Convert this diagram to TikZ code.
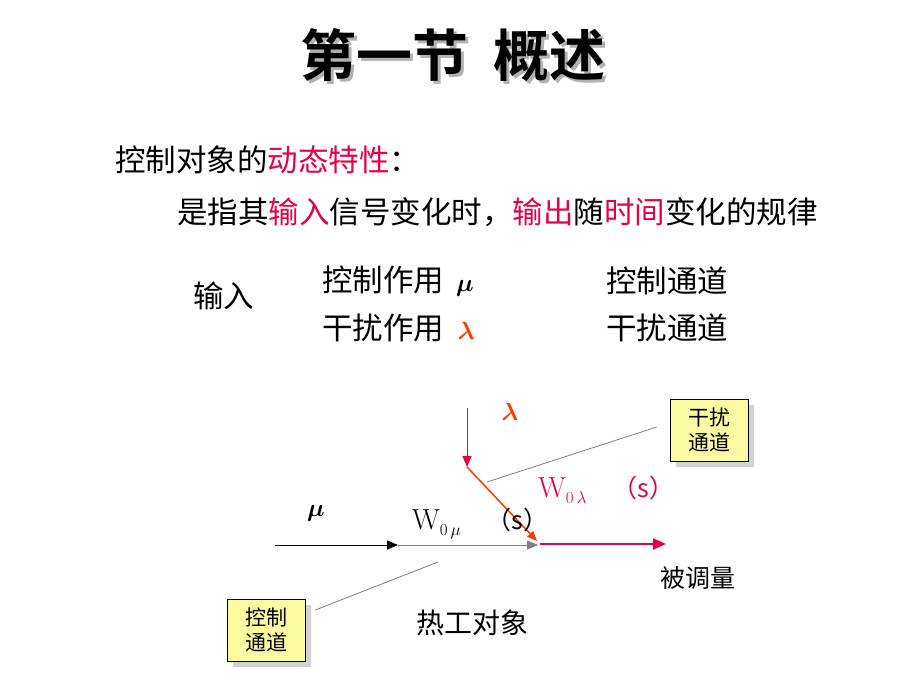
\documentclass[tikz,border=0pt]{standalone}
\usepackage{fontspec}
\usepackage{amsmath,bm}
\newfontfamily\cjk{Noto Sans CJK SC}
\newfontfamily\cjkb{Noto Sans CJK SC Bold}
\usetikzlibrary{arrows.meta,shadows}
\definecolor{hl}{RGB}{230,0,70}
\definecolor{org}{RGB}{255,60,0}
\definecolor{boxy}{RGB}{250,250,160}
\tikzset{
 txt/.style={font=\cjk\fontsize{30.5}{32}\selectfont,inner sep=0pt},
 small/.style={font=\cjk\fontsize{28}{30}\selectfont,inner sep=0pt},
 tag/.style={draw=black,fill=boxy,minimum width=78pt,minimum height=62pt,align=center,font=\cjk\fontsize{21}{25}\selectfont,
   inner sep=2pt,drop shadow},
 lead/.style={draw=gray,line width=0.8pt},
 tipA/.style={-{Triangle[length=11pt,width=9pt]}},
 every shadow/.style={fill=gray!70,shadow xshift=6pt,shadow yshift=-6pt},
}
\begin{document}
\begin{tikzpicture}[x=1pt,y=-1pt]
\useasboundingbox (0,0) rectangle (920,690);
\fill[white] (0,0) rectangle (920,690);
% title
\node[font=\cjkb\fontsize{56}{60}\selectfont,text=gray!60,inner sep=0pt] at (456,58) {第一节\ \ 概述};
\node (title) [font=\cjkb\fontsize{56}{60}\selectfont,inner sep=0pt] at (453,55) {第一节\ \ 概述};
\node (l1) [txt,anchor=west] at (115,160) {控制对象的\textcolor{hl}{动态特性}：};
\node (l2) [txt,anchor=west] at (177,212) {是指其\textcolor{hl}{输入}信号变化时，\textcolor{hl}{输出}随\textcolor{hl}{时间}变化的规律};
\node (in) [txt,anchor=west] at (193,296) {输入};
\node (c1) [txt,anchor=west] at (322,281) {控制作用 \,{\fontsize{36}{38}\selectfont$\bm{\mu}$}};
\node (c2) [txt,anchor=west] at (322,328) {干扰作用 \ \textcolor{org}{\fontsize{36}{38}\selectfont$\bm{\lambda}$}};
\node (d1) [txt,anchor=west] at (606,281) {控制通道};
\node (d2) [txt,anchor=west] at (606,328) {干扰通道};
% diagram
\coordinate (a0) at (275,545);
\coordinate (a1) at (398,545);
\coordinate (j) at (538,545);
\coordinate (out) at (666,544);
\coordinate (l0) at (467,408);
\coordinate (l1p) at (467,467);
\draw[tipA,line width=0.8pt] (a0) -- (a1);
\draw[tipA,draw=gray,fill=black,line width=0.8pt] (a1) -- (j);
\draw[-{Triangle[length=13pt,width=11pt]},draw=hl,fill=hl,line width=2.5pt] (540,544) -- (out);
\draw[tipA,draw=hl,fill=hl,line width=1pt] (l0) -- (l1p);
\draw[-{Triangle[length=10pt,width=8pt]},draw=org,fill=org,line width=1.5pt] (l1p) -- (537,541);
\node (lam) [text=org,font=\fontsize{42}{44}\selectfont] at (510,412) {$\bm{\lambda}$};
\node (mu) [font=\fontsize{38}{40}\selectfont] at (316,513) {$\bm{\mu}$};
\node (w1) [anchor=west,font=\fontsize{29}{30}\selectfont,inner sep=0pt] at (412,523) {W\raisebox{-6pt}{\fontsize{17}{18}\selectfont 0\,$\mu$}\ \ \ {\cjk\fontsize{25}{26}\selectfont （s）}};
\node (w2) [anchor=west,text=hl,font=\fontsize{29}{30}\selectfont,inner sep=0pt] at (538,490) {W\raisebox{-6pt}{\fontsize{17}{18}\selectfont 0\,$\lambda$}\ \ \ {\cjk\fontsize{25}{26}\selectfont （s）}};
\node (obj) [small] at (472,623) {热工对象};
\node (y) [font=\cjk\fontsize{25}{27}\selectfont,inner sep=0pt] at (698,578) {被调量};
\node (g) [tag] at (709,430) {干扰\\通道};
\node (k) [tag] at (266,630) {控制\\通道};
\draw[lead] (g.west) ++(-13,-3) coordinate (gp) -- (487,482);
\draw[lead] (k.east) ++(10,-20) coordinate (kp) -- (438,562);
\end{tikzpicture}
\end{document}
